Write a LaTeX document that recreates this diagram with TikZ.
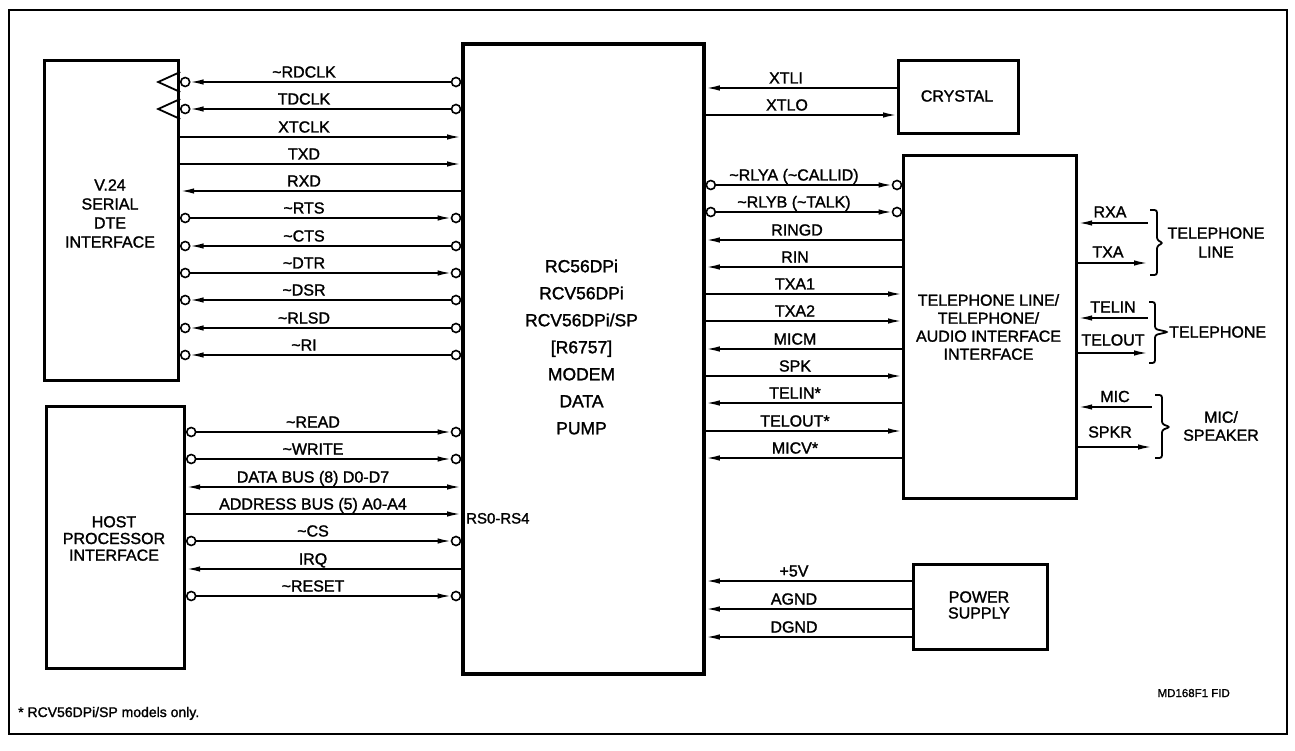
\documentclass[tikz,border=0pt]{standalone}
\usepackage{fontspec}
\setmainfont{Liberation Sans}[FakeBold=1.5]
\usetikzlibrary{arrows.meta,calc}
\newcounter{lbl}
\newcommand\wire[6]{%
  \draw[sig,#4] (#1.east |- 0,#3) -- (#2.west |- 0,#3);
  \stepcounter{lbl}\node[lab] (lab\thelbl) at (#5,#3-4.5) {#6};}
\newcommand\cwire[6]{%
  \wire{#1}{#2}{#3}{#4,shorten <=9.5pt,shorten >=9.5pt}{#5}{#6}%
  \node[bub] (bub\thelbl a) at ($(#1.east |- 0,#3)+(5,0)$) {};%
  \node[bub] (bub\thelbl b) at ($(#2.west |- 0,#3)+(-5,0)$) {};}
\newcommand\rwire[6]{%
  \coordinate (e#1) at (#2,#1);
  \draw[sig,#3] (telbox.east |- e#1) -- (e#1);
  \node[lab] (r#1) at (#4,#5) {#6};}
\begin{document}
\begin{tikzpicture}[x=1pt,y=-1pt,
  box/.style={draw,line width=3.2pt,inner sep=0pt,anchor=north west},
  sig/.style={line width=1.8pt},
  lab/.style={font=\fontsize{16}{18}\selectfont,anchor=base,inner sep=0pt},
  txt/.style={font=\fontsize{16}{18}\selectfont,align=center,inner sep=0pt},
  bub/.style={circle,draw,line width=1.6pt,fill=white,minimum size=9pt,inner sep=0pt},
  brace/.style={line width=1.8pt,rounded corners=2.5pt},
  >={Latex[length=14pt,width=5.5pt]},
]
\useasboundingbox (0,0) rectangle (1295,751);
\draw[line width=1.5pt] (9,10) rectangle (1287,734);

% blocks
\node[box,minimum width=134pt,minimum height=320pt] (v24) at (43,59) {};
\node[box,minimum width=138pt,minimum height=262pt] (host) at (45,405) {};
\node[box,line width=3.8pt,minimum width=241pt,minimum height=630pt] (chip) at (461,42) {};
\node[box,minimum width=120pt,minimum height=73pt] (crystal) at (897,59) {};
\node[box,minimum width=173pt,minimum height=343pt] (telbox) at (902,154) {};
\node[box,minimum width=134pt,minimum height=85pt] (power) at (912,563) {};

% block texts
\node[txt,font=\fontsize{16}{19}\selectfont] (v24t) at (110,213.5) {V.24\\SERIAL\\DTE\\INTERFACE};
\node[txt,font=\fontsize{16}{16.7}\selectfont] (hostt) at (114,538.5) {HOST\\PROCESSOR\\INTERFACE};
\node[txt,font=\fontsize{17.5}{27}\selectfont] (chipt) at (581.5,347) {RC56DPi\\RCV56DPi\\RCV56DPi/SP\\{[R6757]}\\MODEM\\DATA\\PUMP};
\node[txt] (crystalt) at (957,96) {CRYSTAL};
\node[txt] (telt) at (988.5,327) {TELEPHONE LINE/\\TELEPHONE/\\AUDIO INTERFACE\\INTERFACE};
\node[txt,font=\fontsize{16}{16}\selectfont] (powert) at (979,605) {POWER\\SUPPLY};

% clock triangles
\draw[sig] (v24.east |- 0,72) -- ($(v24.east |- 0,82)+(-22,0)$) -- (v24.east |- 0,92);
\draw[sig] (v24.east |- 0,99) -- ($(v24.east |- 0,109)+(-22,0)$) -- (v24.east |- 0,119);

% V.24 side
\cwire{v24}{chip}{82}{<-}{304}{\textasciitilde RDCLK}
\cwire{v24}{chip}{109}{<-}{304}{TDCLK}
\wire{v24}{chip}{137}{->}{304}{XTCLK}
\wire{v24}{chip}{164}{->}{304}{TXD}
\wire{v24}{chip}{191}{<-}{304}{RXD}
\cwire{v24}{chip}{218}{->}{304}{\textasciitilde RTS}
\cwire{v24}{chip}{246}{<-}{304}{\textasciitilde CTS}
\cwire{v24}{chip}{273}{->}{304}{\textasciitilde DTR}
\cwire{v24}{chip}{300}{<-}{304}{\textasciitilde DSR}
\cwire{v24}{chip}{328}{<-}{304}{\textasciitilde RLSD}
\cwire{v24}{chip}{355}{<-}{304}{\textasciitilde RI}

% host side
\cwire{host}{chip}{432}{->}{313}{\textasciitilde READ}
\cwire{host}{chip}{459}{->}{313}{\textasciitilde WRITE}
\wire{host}{chip}{487}{<->}{313}{DATA BUS (8) D0-D7}
\wire{host}{chip}{514}{->}{313}{ADDRESS BUS (5) A0-A4}
\cwire{host}{chip}{541}{->}{313}{\textasciitilde CS}
\wire{host}{chip}{569}{<-}{313}{IRQ}
\cwire{host}{chip}{596}{->}{313}{\textasciitilde RESET}
\node[lab,anchor=base west,font=\fontsize{15}{17}\selectfont] (rs) at (466,523.5) {RS0-RS4};

% crystal
\wire{chip}{crystal}{88}{<-}{786}{XTLI}
\wire{chip}{crystal}{115}{->}{787}{XTLO}

% telephone interface
\cwire{chip}{telbox}{185}{->}{794}{\textasciitilde RLYA (\textasciitilde CALLID)}
\cwire{chip}{telbox}{212}{->}{794}{\textasciitilde RLYB (\textasciitilde TALK)}
\wire{chip}{telbox}{240}{<-}{797}{RINGD}
\wire{chip}{telbox}{267}{<-}{795}{RIN}
\wire{chip}{telbox}{294}{->}{795}{TXA1}
\wire{chip}{telbox}{321}{->}{795}{TXA2}
\wire{chip}{telbox}{349}{<-}{795}{MICM}
\wire{chip}{telbox}{376}{->}{795}{SPK}
\wire{chip}{telbox}{403}{<-}{795}{TELIN*}
\wire{chip}{telbox}{431}{->}{795}{TELOUT*}
\wire{chip}{telbox}{458}{<-}{795}{MICV*}

% power
\wire{chip}{power}{581}{<-}{794}{+5V}
\wire{chip}{power}{609}{<-}{794}{AGND}
\wire{chip}{power}{637}{<-}{794}{DGND}

% right of telephone interface
\rwire{223}{1148}{<-}{1110}{217.5}{RXA}
\rwire{263}{1148}{->}{1108}{257.5}{TXA}
\rwire{318}{1148}{<-}{1113}{312.5}{TELIN}
\rwire{353}{1148}{->}{1113}{345.5}{TELOUT}
\rwire{407}{1152}{<-}{1115}{402}{MIC}
\rwire{447}{1152}{->}{1110}{437.5}{SPKR}

% braces
\draw[brace] (1150,210) -- (1157,210) -- (1157,240) -- (1163,243) -- (1157,246) -- (1157,275) -- (1150,275);
\draw[brace] (1149,302) -- (1155,302) -- (1155,329) -- (1168,332) -- (1155,335) -- (1155,363) -- (1149,363);
\draw[brace] (1155,395) -- (1162,395) -- (1162,424) -- (1170,427) -- (1162,430) -- (1162,458) -- (1155,458);
\node[txt,font=\fontsize{16}{19}\selectfont] (telline) at (1216,242.5) {TELEPHONE\\LINE};
\node[txt,anchor=west] (tel) at (1169,332) {TELEPHONE};
\node[txt,font=\fontsize{16}{18}\selectfont] (micspk) at (1221,426) {MIC/\\SPEAKER};

% footnotes
\node[anchor=base west,inner sep=0pt,font=\fontsize{14}{16}\selectfont] (fn) at (18,717) {* RCV56DPi/SP models only.};
\node[anchor=base east,inner sep=0pt,font=\fontsize{11.5}{13}\selectfont] (md) at (1230,697) {MD168F1 FID};
\end{tikzpicture}
\end{document}
